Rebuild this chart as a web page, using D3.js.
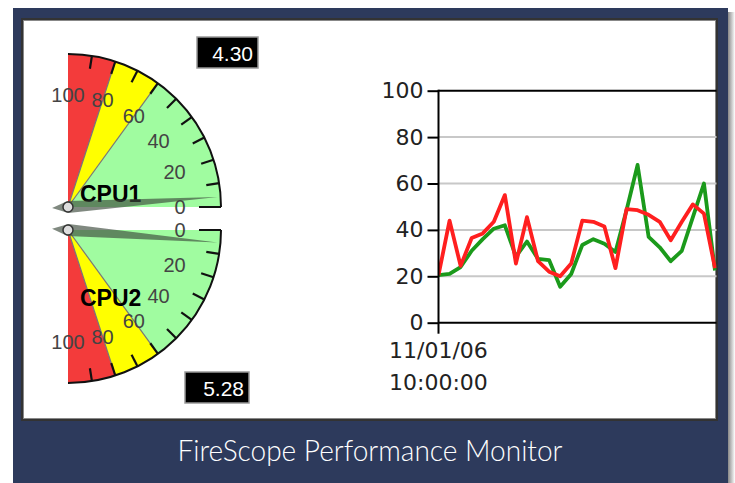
<!DOCTYPE html>
<html>
<head>
<meta charset="utf-8">
<script src="https://cdn.jsdelivr.net/npm/d3@7"></script>
<style>
  body { margin: 0; background: #fff; }
  svg { display: block; }
</style>
</head>
<body>
<div id="ch"></div>
<script>
// FireScope performance monitor: two CPU gauges + history line chart

const gaugeNames = ["CPU1", "CPU2"];
const gaugeValues = [4.30, 5.28];
const gaugeTicks = [0, 20, 40, 60, 80, 100];
const gaugeMinor = [10, 20, 30, 40, 50, 60, 70, 80, 90];
const bandLimits = [0, 60, 80, 100];

const timeLabel = ["11/01/06", "10:00:00"];
const yTicks = [0, 20, 40, 60, 80, 100];
const cpuRed = [20.5, 44, 24.5, 36.5, 38.5, 43.5, 55, 25.5, 45.5, 26.5, 22, 20,
  25.5, 44, 43.5, 41.5, 23.5, 49, 48.5, 46.5, 43.5, 35.5, 43.5, 51, 47, 23.5];
const cpuGreen = [20.5, 21, 24, 31, 36, 40.5, 42, 28.5, 35, 27.5, 27, 15.5,
  21, 33.5, 36, 34, 30.5, 48.5, 68, 37, 32.5, 26.5, 31, 45.5, 60, 22.5];

const W = 735, H = 483;
const svg = d3.select("#ch").append("svg").attr("width", W).attr("height", H);

/* Frame */
const shadow = svg.append("defs").append("linearGradient").attr("id", "sh");
shadow.append("stop").attr("offset", "0%").attr("stop-color", "#888");
shadow.append("stop").attr("offset", "100%").attr("stop-color", "#fff");
svg.append("rect").attr("x", 728).attr("y", 12).attr("width", 7).attr("height", H)
  .style("fill", "url(#sh)");
svg.append("rect").attr("x", 13).attr("y", 8).attr("width", 715).attr("height", H)
  .style("fill", "#2d3a5c");
svg.append("rect").attr("x", 22).attr("y", 19).attr("width", 695).attr("height", 401)
  .style("fill", "#fff").style("stroke", "#333").style("stroke-width", 2);
svg.append("rect").attr("x", 23.5).attr("y", 20.5).attr("width", 692).attr("height", 398)
  .style("fill", "none").style("stroke", "#888").style("stroke-width", 1);

svg.append("text").attr("x", 370).attr("y", 461).attr("text-anchor", "middle")
  .attr("textLength", 385).attr("lengthAdjust", "spacingAndGlyphs")
  .style("font-family", "Lato").style("font-weight", 300).style("font-size", "29px")
  .style("fill", "#fff").text("FireScope Performance Monitor");

/* Gauges */
const gR = 153, labR = 112;
const gauges = [
  { cx: 68, cy: 207, dir: -1, box: [197, 37, 61, 31], nameY: 202 },
  { cx: 68, cy: 230, dir: 1, box: [185, 372, 64, 31], nameY: 306 }
];
const ang = d3.scaleLinear().domain([0, 100]).range([0, Math.PI / 2]);
const bandColors = ["#a0fca0", "#ffff00", "#f33b3b"];

gauges.forEach((g, gi) => {
  const pt = (v, r) => [g.cx + r * Math.cos(ang(v)), g.cy + g.dir * r * Math.sin(ang(v))];
  const grp = svg.append("g");

  // bands
  for (let b = 0; b < bandLimits.length - 1; b++) {
    const p = d3.path();
    p.moveTo(g.cx, g.cy);
    const a0 = g.dir * ang(bandLimits[b]), a1 = g.dir * ang(bandLimits[b + 1]);
    p.arc(g.cx, g.cy, gR, a0, a1, g.dir < 0);
    p.closePath();
    grp.append("path").attr("d", p.toString()).style("fill", bandColors[b]);
  }
  // band borders
  [60, 80].forEach(v => {
    const e = pt(v, gR);
    grp.append("line").attr("x1", g.cx).attr("y1", g.cy).attr("x2", e[0]).attr("y2", e[1])
      .style("stroke", "#777").style("stroke-width", 1.2);
  });
  // rim
  const rim = d3.path();
  rim.arc(g.cx, g.cy, gR, g.dir * ang(100), 0, g.dir > 0);
  grp.append("path").attr("d", rim.toString()).style("fill", "none")
    .style("stroke", "#111").style("stroke-width", 2);
  grp.append("line").attr("x1", g.cx + gR - 22).attr("x2", g.cx + gR)
    .attr("y1", g.cy).attr("y2", g.cy).style("stroke", "#111").style("stroke-width", 2);
  // ticks
  grp.selectAll(".tk").data(gaugeMinor).enter().append("line")
    .attr("x1", d => pt(d, gR - 13)[0]).attr("y1", d => pt(d, gR - 13)[1])
    .attr("x2", d => pt(d, gR)[0]).attr("y2", d => pt(d, gR)[1])
    .style("stroke", "#111").style("stroke-width", 2.2);
  // labels
  grp.selectAll(".lb").data(gaugeTicks).enter().append("text")
    .attr("x", d => pt(d, labR)[0]).attr("y", d => pt(d, labR)[1] + 7)
    .attr("text-anchor", "middle")
    .style("font-family", "Liberation Sans, Arial").style("font-size", "20px")
    .style("fill", "#444").text(d => d);
  // name
  grp.append("text").attr("x", 80).attr("y", g.nameY)
    .style("font-family", "Liberation Sans, Arial").style("font-weight", "bold")
    .style("font-size", "23px").style("fill", "#000").text(gaugeNames[gi]);
  // needle
  const tip = pt(gaugeValues[gi], gR - 3);
  const a = g.dir * ang(gaugeValues[gi]);
  const nx = -Math.sin(a), ny = Math.cos(a);
  const tail = [g.cx - 16 * Math.cos(a), g.cy - 16 * Math.sin(a)];
  const needle = [
    tip,
    [g.cx + 6 * nx, g.cy + 6 * ny],
    tail,
    [g.cx - 6 * nx, g.cy - 6 * ny]
  ];
  grp.append("path").attr("d", d3.line()(needle) + "Z")
    .style("fill", "#3c4a3c").style("opacity", 0.65);
  grp.append("circle").attr("cx", g.cx).attr("cy", g.cy).attr("r", 5)
    .style("fill", "#ddd").style("stroke", "#333").style("stroke-width", 1.5);
  // value box
  const [bx, by, bw, bh] = g.box;
  grp.append("rect").attr("x", bx).attr("y", by).attr("width", bw).attr("height", bh)
    .style("fill", "#000").style("stroke", "#999").style("stroke-width", 1.5);
  grp.append("text").attr("x", bx + bw - 5).attr("y", by + bh - 7).attr("text-anchor", "end")
    .style("font-family", "Liberation Sans, Arial").style("font-size", "21px")
    .style("fill", "#fff").text(gaugeValues[gi].toFixed(2));
});

/* Line chart */
const pLeft = 438.5, pRight = 716.5, pTop = 90.7, pBottom = 322.7;
const x = d3.scaleLinear().domain([0, cpuRed.length - 1]).range([pLeft, pRight - 1.5]);
const y = d3.scaleLinear().domain([0, 100]).range([pBottom, pTop]);

const ch = svg.append("g");
ch.selectAll(".grid").data(yTicks.filter(d => d > 0 && d < 100)).enter().append("line")
  .attr("x1", pLeft).attr("x2", pRight).attr("y1", d => y(d)).attr("y2", d => y(d))
  .style("stroke", "#c8c8c8").style("stroke-width", 2);

const yAxis = d3.axisLeft(y).tickValues(yTicks).tickSize(11).tickPadding(4);
const ya = ch.append("g").attr("transform", `translate(${pLeft},0)`).call(yAxis);
ya.select(".domain").remove();
ya.selectAll("line").style("stroke", "#000").style("stroke-width", 2);
ya.selectAll("text").style("font-family", "DejaVu Sans").style("font-size", "22px")
  .style("fill", "#222");

const line = d3.line().x((d, i) => x(i)).y(d => y(d));
ch.append("clipPath").attr("id", "clip").append("rect")
  .attr("x", pLeft).attr("y", pTop - 10).attr("width", pRight - pLeft).attr("height", pBottom - pTop + 10);
const lines = ch.append("g").attr("clip-path", "url(#clip)");
lines.append("path").datum(cpuGreen).attr("d", line)
  .style("fill", "none").style("stroke", "#1b9a1b").style("stroke-width", 3.8)
  .style("stroke-linejoin", "round");
lines.append("path").datum(cpuRed).attr("d", line)
  .style("fill", "none").style("stroke", "#ff1f1f").style("stroke-width", 3.8)
  .style("stroke-linejoin", "round");

ch.append("line").attr("x1", pLeft).attr("x2", pRight).attr("y1", pTop).attr("y2", pTop)
  .style("stroke", "#000").style("stroke-width", 2);
ch.append("line").attr("x1", pLeft).attr("x2", pRight).attr("y1", pBottom).attr("y2", pBottom)
  .style("stroke", "#000").style("stroke-width", 2);
ch.append("line").attr("x1", pLeft).attr("x2", pLeft).attr("y1", pTop - 1).attr("y2", pBottom + 11)
  .style("stroke", "#000").style("stroke-width", 2);

ch.selectAll(".tl").data(timeLabel).enter().append("text")
  .attr("x", 389).attr("y", (d, i) => 358 + i * 32)
  .style("font-family", "DejaVu Sans").style("font-size", "22px").style("fill", "#222")
  .text(d => d);
</script>
</body>
</html>
